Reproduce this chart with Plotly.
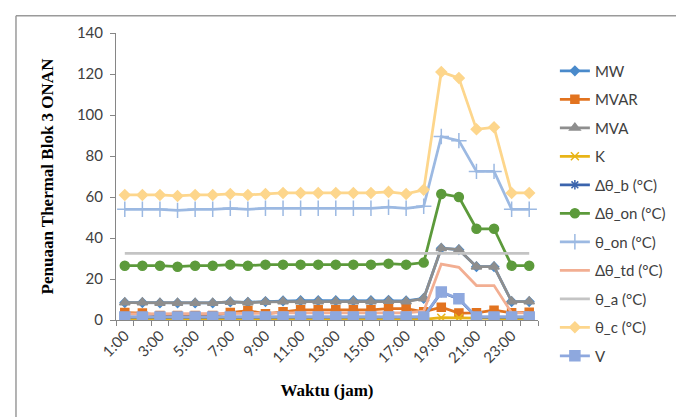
import plotly.graph_objects as go

hours = [f"{h}:00" for h in range(1, 25)]
tick_labels = [f"{h}:00" if h % 2 == 1 else "" for h in range(1, 25)]

mw = [8.5, 8.5, 8.3, 8.3, 8.3, 8.3, 8.8, 8.6, 9.0, 9.3, 9.4, 9.4, 9.4, 9.4, 9.4, 9.6, 9.3, 10.5, 35.0, 34.3, 26.0, 26.0, 9.0, 9.0]
mvar = [3.6, 3.4, 2.2, 2.2, 2.2, 2.2, 3.6, 4.6, 3.0, 4.0, 5.0, 5.0, 5.0, 5.0, 5.0, 5.6, 5.6, 4.0, 6.2, 3.4, 3.5, 4.8, 3.5, 3.8]
mva = [8.5, 8.5, 8.3, 8.3, 8.3, 8.3, 8.8, 8.5, 8.8, 9.0, 9.0, 9.0, 9.0, 9.0, 9.0, 9.3, 9.0, 10.5, 35.0, 34.3, 26.0, 26.0, 9.0, 9.0]
k = [0.3, 0.3, 0.3, 0.3, 0.3, 0.3, 0.3, 0.3, 0.3, 0.3, 0.3, 0.3, 0.3, 0.3, 0.3, 0.3, 0.3, 0.35, 1.1, 1.05, 0.8, 0.8, 0.3, 0.3]
d_theta_b = [1.4, 1.4, 1.4, 1.4, 1.4, 1.4, 1.4, 1.4, 1.4, 1.4, 1.4, 1.4, 1.4, 1.4, 1.4, 1.4, 1.4, 1.5, 13.5, 10.2, 1.4, 1.4, 1.4, 1.4]
d_theta_on = [26.5, 26.5, 26.5, 26.0, 26.5, 26.5, 27.0, 26.5, 27.0, 27.0, 27.0, 27.0, 27.0, 27.0, 27.0, 27.5, 27.0, 28.0, 61.5, 60.0, 44.5, 44.5, 26.5, 26.5]
theta_on = [54.0, 54.0, 54.0, 53.5, 54.0, 54.0, 54.5, 54.0, 54.5, 54.5, 54.5, 54.5, 54.5, 54.5, 54.5, 55.0, 54.5, 55.5, 89.5, 87.5, 72.5, 72.5, 54.0, 54.0]
d_theta_td = [3.0, 3.0, 3.0, 3.0, 3.0, 3.0, 3.3, 3.0, 3.3, 3.5, 3.5, 3.5, 3.5, 3.5, 3.5, 3.7, 3.5, 4.3, 27.3, 25.7, 16.8, 16.8, 3.5, 3.5]
theta_a = [32.5] * 24
theta_c = [61.0, 61.0, 61.0, 60.5, 61.0, 61.0, 61.5, 61.0, 61.5, 62.0, 62.0, 62.0, 62.0, 62.0, 62.0, 62.5, 61.5, 63.5, 121.0, 118.0, 93.0, 94.0, 62.0, 62.0]
v = [1.5, 1.5, 1.5, 1.5, 1.5, 1.5, 1.5, 1.5, 1.5, 1.5, 1.5, 1.5, 1.5, 1.5, 1.5, 1.5, 1.5, 1.5, 13.7, 10.4, 1.5, 1.5, 1.5, 1.5]

series = [
    ("MW", mw, "#4A8ACB", "diamond", 7),
    ("MVAR", mvar, "#E2731F", "square", 8),
    ("MVA", mva, "#8E8E8E", "triangle-up", 9),
    ("K", k, "#E8B417", "x-thin", 8),
    ("Δθ_b (°C)", d_theta_b, "#3B64AD", "asterisk", 8),
    ("Δθ_on (°C)", d_theta_on, "#5C9A3B", "circle", 9),
    ("θ_on (°C)", theta_on, "#9CB9E2", "cross-thin", 11),
    ("Δθ_td (°C)", d_theta_td, "#F2AE92", None, 0),
    ("θ_a (°C)", theta_a, "#C4C4C4", None, 0),
    ("θ_c (°C)", theta_c, "#FDD68C", "diamond", 8),
    ("V", v, "#8EA8DE", "square", 10),
]

fig = go.Figure()
for i, (name, vals, col, sym, sz) in enumerate(series):
    if sym is None:
        mode = "lines"
        marker = None
    else:
        mode = "lines+markers"
        marker = dict(symbol=sym, size=sz, color=col, line=dict(color=col, width=1.5))
    fig.add_trace(go.Scatter(
        x=hours, y=vals, name=name, mode=mode,
        line=dict(color=col, width=2.75),
        marker=marker, legendgroup=f"g{i}",
    ))

fig.update_layout(
    width=684, height=417,
    margin=dict(l=108, r=154, t=25, b=105),
    paper_bgcolor="white", plot_bgcolor="white",
    font=dict(family="Lato, Open Sans, sans-serif", size=14, color="#404040"),
    legend=dict(
        x=1.04, y=0.925, xanchor="left", yanchor="top",
        tracegroupgap=6, font=dict(size=15, color="#404040"),
        bgcolor="rgba(0,0,0,0)", maxheight=400,
    ),
    xaxis=dict(
        type="category", range=[-0.5, 23.5],
        tickmode="array", tickvals=hours, ticktext=tick_labels,
        tickangle=-45, tickson="boundaries",
        ticks="outside", ticklen=5, tickcolor="#868686",
        showline=True, linecolor="#868686", linewidth=1,
        showgrid=False, zeroline=False,
        tickfont=dict(size=15, color="#404040"),
        title=dict(text="<b>Waktu (jam)</b>", standoff=18,
                   font=dict(family="Liberation Serif, Times New Roman, serif", size=17, color="#000000")),
    ),
    yaxis=dict(
        range=[0, 140], tickmode="linear", tick0=0, dtick=20,
        ticks="outside", ticklen=5, tickcolor="#868686",
        showline=True, linecolor="#868686", linewidth=1,
        showgrid=False, zeroline=False, ticklabelstandoff=4,
        tickfont=dict(size=15, color="#404040"),
        title=dict(text="<b>Penuaan Thermal Blok 3 ONAN</b>", standoff=18,
                   font=dict(family="Liberation Serif, Times New Roman, serif", size=17, color="#000000")),
    ),
)

# chart frame (top and left edges visible in reference)
fig.add_shape(type="line", xref="paper", yref="paper", x0=-0.237, x1=1.5, y0=1.06, y1=1.06,
              line=dict(color="#9A9A9A", width=1.5))
fig.add_shape(type="line", xref="paper", yref="paper", x0=-0.237, x1=-0.237, y0=-0.4, y1=1.06,
              line=dict(color="#9A9A9A", width=1.5))

fig.write_html("out.html")
